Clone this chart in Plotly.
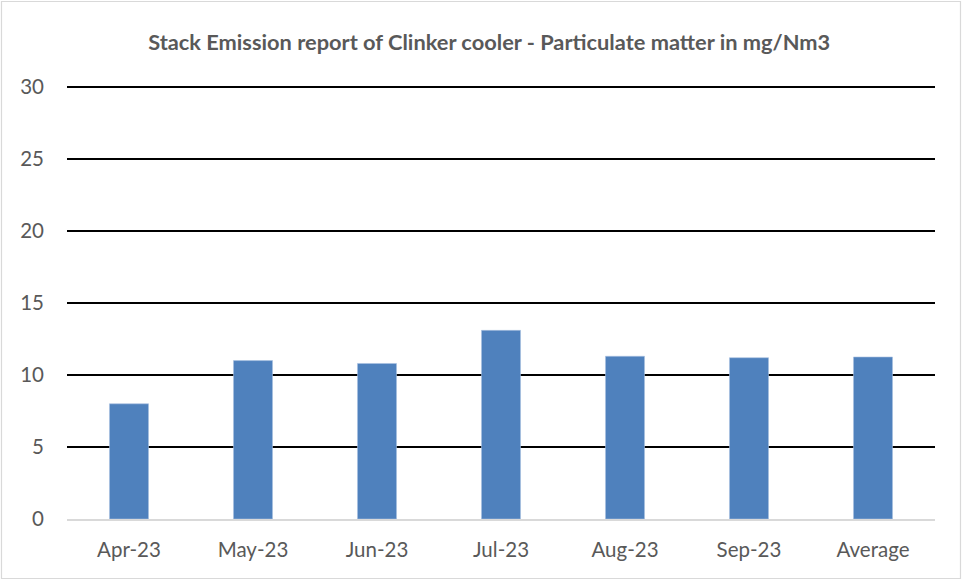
import plotly.graph_objects as go

categories = ["Apr-23", "May-23", "Jun-23", "Jul-23", "Aug-23", "Sep-23", "Average"]
values = [8.0, 11.0, 10.8, 13.1, 11.3, 11.2, 11.25]
y_ticks = [0, 5, 10, 15, 20, 25, 30]

W, H = 963, 581
L, R, T, B = 67, 28, 87, 62
pw, ph = W - L - R, H - T - B

fig = go.Figure(go.Bar(x=categories, y=values, marker=dict(color="#4f81bd", line=dict(color="#a9c1e0", width=0.6)), width=0.315))

def px2paper_x(px):
    return (px - L) / pw

def px2paper_y(py):
    return (H - B - py) / ph

fig.update_layout(
    width=W, height=H,
    margin=dict(l=L, r=R, t=T, b=B),
    plot_bgcolor="white", paper_bgcolor="white",
    font=dict(family="Lato, Open Sans, sans-serif", color="#595959"),
    title=dict(text="<b>Stack Emission report of Clinker cooler - Particulate matter in mg/Nm3</b>",
               x=0.508, xanchor="center", y=1 - 42 / H, yanchor="middle",
               font=dict(size=21.8, color="#595959")),
    showlegend=False,
)
fig.update_yaxes(range=[0, y_ticks[-1]], tickvals=y_ticks, showgrid=True, gridcolor="#000000", gridwidth=2,
                 zeroline=False, showline=False, ticks="", tickfont=dict(size=20.5, color="#595959"),
                 ticklabelstandoff=22)
fig.update_xaxes(showgrid=False, showline=True, linecolor="#d9d9d9", linewidth=1.5, ticks="",
                 tickfont=dict(size=20.5, color="#595959"), ticklabelstandoff=12)
# top gridline (plotly culls the gridline at the range edge); y=1 in paper is the top of the y range
fig.add_shape(type="line", xref="paper", yref="paper", x0=0, x1=1, y0=1, y1=1,
              line=dict(color="#000000", width=2), layer="below")
fig.add_shape(type="rect", xref="paper", yref="paper",
              x0=px2paper_x(1.5), x1=px2paper_x(960.5), y0=px2paper_y(578.5), y1=px2paper_y(1.5),
              line=dict(color="#d9d9d9", width=1.2), layer="below")
fig.write_html("out.html", config={"displayModeBar": False},
               post_script="document.body.style.margin='0';document.body.style.padding='0';document.documentElement.style.overflow='hidden';")
